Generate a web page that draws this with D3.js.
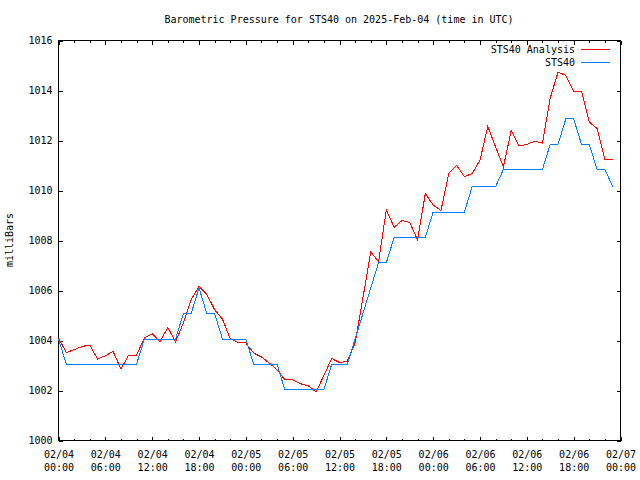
<!DOCTYPE html>
<html><head><meta charset="utf-8">
<script src="https://cdn.jsdelivr.net/npm/d3@7"></script>
<style>
body{margin:0;background:#fff;}
svg{display:block;}
text{font-family:"DejaVu Sans Mono","Liberation Mono",monospace;font-size:10px;fill:#000;}
</style></head><body>
<svg id="c" width="640" height="480"></svg>
<script>
const title = "Barometric Pressure for STS40 on 2025-Feb-04 (time in UTC)";
const yLabel = "milliBars";
const seriesNames = ["STS40 Analysis", "STS40"];
const seriesColors = ["#ff0000", "#0080ff"];
const startTime = "2025-02-04T00:00:00Z";
const endTime = "2025-02-07T00:00:00Z";
const yTicks = [1000, 1002, 1004, 1006, 1008, 1010, 1012, 1014, 1016];

// hourly values, 02/04 00:00 .. 02/06 23:00 (UTC)
const analysis = [
  1004.10, 1003.52, 1003.63, 1003.76, 1003.82, 1003.26, 1003.39, 1003.56, 1002.86, 1003.42,
  1003.42, 1004.10, 1004.27, 1003.95, 1004.52, 1003.95, 1004.70, 1005.63, 1006.17, 1005.85,
  1005.23, 1004.86, 1004.07, 1003.92, 1003.90, 1003.50, 1003.34, 1003.10, 1002.83, 1002.43,
  1002.43, 1002.27, 1002.19, 1001.94, 1002.60, 1003.28, 1003.12, 1003.17, 1003.90, 1005.70,
  1007.55, 1007.15, 1009.22, 1008.53, 1008.80, 1008.72, 1008.02, 1009.88, 1009.42, 1009.20,
  1010.68, 1011.01, 1010.55, 1010.68, 1011.21, 1012.57, 1011.74, 1010.94, 1012.40, 1011.79,
  1011.84, 1011.97, 1011.90, 1013.70, 1014.74, 1014.60, 1013.98, 1013.98, 1012.74, 1012.48,
  1011.25, 1011.25
];
const sts40 = [
  1004.06, 1003.05, 1003.05, 1003.05, 1003.05, 1003.05, 1003.05, 1003.05, 1003.05, 1003.05,
  1003.05, 1004.06, 1004.06, 1004.06, 1004.06, 1004.06, 1005.08, 1005.08, 1006.10, 1005.08,
  1005.08, 1004.06, 1004.06, 1004.06, 1004.06, 1003.05, 1003.05, 1003.05, 1003.05, 1002.03,
  1002.03, 1002.03, 1002.03, 1002.03, 1002.03, 1003.05, 1003.05, 1003.05, 1004.06, 1005.08,
  1006.10, 1007.11, 1007.11, 1008.13, 1008.13, 1008.13, 1008.13, 1008.13, 1009.14, 1009.14,
  1009.14, 1009.14, 1009.14, 1010.16, 1010.16, 1010.16, 1010.16, 1010.84, 1010.84, 1010.84,
  1010.84, 1010.84, 1010.84, 1011.85, 1011.85, 1012.87, 1012.87, 1011.85, 1011.85, 1010.84,
  1010.84, 1010.16
];

const svg = d3.select("#c");
const L = 58.5, R = 620.5, T = 40.5, B = 440.5;
const t0 = new Date(startTime), t1 = new Date(endTime);
const x = d3.scaleUtc().domain([t0, t1]).range([L, R]);
const y = d3.scaleLinear().domain([1000, 1016]).range([B, T]);
const timeOf = i => d3.utcHour.offset(t0, i);

svg.append("rect").attr("width", 640).attr("height", 480).attr("fill", "#fff");

const major = d3.utcHour.every(6).range(t0, d3.utcHour.offset(t1, 1));
const minor = d3.utcHour.every(2).range(t0, d3.utcHour.offset(t1, 1));

function styleAxis(g) {
  g.select(".domain").remove();
  g.selectAll("line").attr("stroke", "#000").attr("shape-rendering", "crispEdges");
}

// minor x ticks bottom/top
svg.append("g").attr("transform", `translate(0,${B})`)
  .call(d3.axisBottom(x).tickValues(minor).tickSize(-2).tickFormat("")).call(styleAxis);
svg.append("g").attr("transform", `translate(0,${T})`)
  .call(d3.axisTop(x).tickValues(minor).tickSize(-2).tickFormat("")).call(styleAxis);

// major x ticks bottom with two-line labels
const xb = svg.append("g").attr("transform", `translate(0,${B})`)
  .call(d3.axisBottom(x).tickValues(major).tickSize(-4).tickFormat("")).call(styleAxis);
xb.selectAll(".tick text").remove();
xb.selectAll(".tick").each(function(d) {
  const t = d3.select(this).append("text").attr("text-anchor", "middle").attr("y", 17);
  t.append("tspan").attr("x", 0).attr("y", 17).text(d3.utcFormat("%m/%d")(d));
  t.append("tspan").attr("x", 0).attr("y", 30).text(d3.utcFormat("%H:%M")(d));
});
svg.append("g").attr("transform", `translate(0,${T})`)
  .call(d3.axisTop(x).tickValues(major).tickSize(-4).tickFormat("")).call(styleAxis);

// y axes
const yl = svg.append("g").attr("transform", `translate(${L},0)`)
  .call(d3.axisLeft(y).tickValues(yTicks).tickSize(-4).tickPadding(6).tickFormat(d3.format("d"))).call(styleAxis);
yl.selectAll(".tick text").attr("fill", "#000").style("font-family", null).style("font-size", null)
  .attr("font-family", null).attr("font-size", null);
svg.append("g").attr("transform", `translate(${R},0)`)
  .call(d3.axisRight(y).tickValues(yTicks).tickSize(-4).tickFormat("")).call(styleAxis);
svg.selectAll("g").attr("font-family", null).attr("font-size", null);

// frame
svg.append("rect").attr("x", L).attr("y", T).attr("width", R - L).attr("height", B - T)
  .attr("fill", "none").attr("stroke", "#000").attr("shape-rendering", "crispEdges");

// series
const line = d3.line().x((d, i) => x(timeOf(i))).y(d => y(d));
[analysis, sts40].forEach((s, k) => {
  svg.append("path").datum(s).attr("d", line).attr("fill", "none")
    .attr("stroke", seriesColors[k]).attr("stroke-width", 1).attr("shape-rendering", "crispEdges");
});

// drawn in order: STS40 over analysis? keep analysis then STS40
// legend
const legY = [49.5, 62.5];
seriesNames.forEach((n, k) => {
  svg.append("text").attr("x", 575).attr("y", legY[k] + 3.5).attr("text-anchor", "end").text(n);
  svg.append("line").attr("x1", 581).attr("x2", 610).attr("y1", legY[k]).attr("y2", legY[k])
    .attr("stroke", seriesColors[k]).attr("shape-rendering", "crispEdges");
});

// title & y label
svg.append("text").attr("x", 339).attr("y", 22.5).attr("text-anchor", "middle").text(title);
svg.append("text").attr("transform", "translate(13,240) rotate(-90)").attr("text-anchor", "middle").text(yLabel);
</script>
</body></html>
